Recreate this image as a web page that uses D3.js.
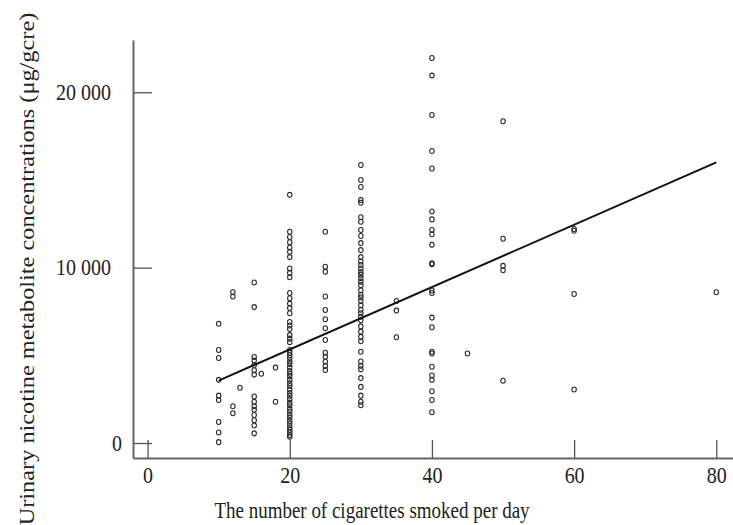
<!DOCTYPE html>
<html>
<head>
<meta charset="utf-8">
<script src="https://cdn.jsdelivr.net/npm/d3@7"></script>
<style>
  body { margin: 0; background: #fff; }
  text { font-family: "Liberation Serif", "Times New Roman", serif; fill: #222; }
</style>
</head>
<body>
<svg id="drawing_region"></svg>
<script>
// cigarettes per day (x) and urinary metabolite values, one list per x
const cigarettes = [10, 12, 13, 15, 16, 18, 20, 25, 30, 35, 40, 45, 50, 60, 80];
const conc10 = [6800, 5300, 4850, 3600, 2700, 2450, 1200, 600, 50];
const conc12 = [8600, 8350, 2100, 1700];
const conc13 = [3150];
const conc15 = [9150, 7750, 4900, 4700, 4450, 4150, 3900, 2650, 2350, 2100, 1900, 1600, 1300, 1000, 550];
const conc16 = [3950];
const conc18 = [4300, 2350];
const conc20 = [14150, 12050, 11750, 11450, 11150, 10900, 10600, 9950, 9700, 9450,
                8550, 8250, 7950, 7700, 7400, 6900, 6700, 6500, 6150, 5950, 5750,
                5300, 5150, 5000, 4850, 4650, 4500, 4300, 4100, 3950, 3800, 3600,
                3400, 3250, 3050, 2850, 2700, 2500, 2300, 2150, 1950, 1800, 1600,
                1450, 1250, 1100, 900, 750, 600, 450, 350];
const conc25 = [12050, 10050, 9770, 8350, 7585, 7055, 6540, 5875, 5150, 4920, 4635, 4390, 4165];
const conc30 = [15850, 15000, 14600, 13850, 13700, 12870, 12620, 12150, 11800, 11400, 11000,
                10600, 10350, 10150, 9950, 9750, 9600, 9400, 9200, 9000, 8700, 8450, 8300,
                8100, 7850, 7600, 7400, 7200, 7000, 6650, 6350, 6050, 5800, 5200, 4650,
                4400, 4200, 3700, 3200, 2700, 2350, 2150];
const conc35 = [8100, 7550, 6030];
const conc40 = [21950, 20950, 18700, 16650, 15650, 13200, 12750, 12150, 11900, 11300, 10250,
                10200, 8700, 8550, 7150, 6600, 5200, 5100, 4350, 3850, 3600, 2950, 2450, 1750];
const conc45 = [5100];
const conc50 = [18350, 11650, 10100, 9850, 3550];
const conc60 = [12200, 12100, 8500, 3050];
const conc80 = [8600];
const concByGroup = [conc10, conc12, conc13, conc15, conc16, conc18, conc20, conc25,
                     conc30, conc35, conc40, conc45, conc50, conc60, conc80];

// fitted line end points
const fitX = [10, 80];
const fitY = [3560, 16000];

const xTicks = [0, 20, 40, 60, 80];
const yTicks = [0, 10000, 20000];

const xTitle = "The number of cigarettes smoked per day";
const yTitle = "Urinary nicotine metabolite concentrations (\u03bcg/gcre)";

const points = [];
cigarettes.forEach((c, i) => concByGroup[i].forEach(v => points.push({ x: c, y: v })));

const config = {
    width: 733,
    height: 525,
    margin: { top: 40, right: 0, bottom: 67, left: 133 }
};
const stretch = 1.2;   // the scan is a bit taller than wide

const svg = d3.select('#drawing_region')
    .attr('width', config.width)
    .attr('height', config.height);

const inner_width = config.width - config.margin.left - config.margin.right;
const inner_height = config.height - config.margin.top - config.margin.bottom;

const chart = svg.append('g')
    .attr('transform', `translate(${config.margin.left}, ${config.margin.top})`);

const xscale = d3.scaleLinear().domain([-2.05, 82.35]).range([0, inner_width]);
const yscale = d3.scaleLinear().domain([-855, 22980]).range([inner_height, 0]);

const spaced = d3.formatLocale({ decimal: ".", thousands: " ", grouping: [3], currency: ["", ""] }).format(",");

// x axis, ticks pointing up into the plot
const xaxis_group = chart.append('g')
    .attr('transform', `translate(0, ${inner_height})`)
    .call(d3.axisBottom(xscale).tickValues(xTicks).tickSizeInner(-18).tickSizeOuter(0));

// y axis, ticks pointing right
const yaxis_group = chart.append('g')
    .call(d3.axisLeft(yscale).tickValues(yTicks).tickFormat(spaced).tickSizeInner(-19).tickSizeOuter(0));

[xaxis_group, yaxis_group].forEach(g => {
    g.select('.domain').attr('stroke', '#666').attr('stroke-width', 2);
    g.selectAll('.tick line').attr('stroke', '#555').attr('stroke-width', 1.3);
    g.selectAll('.tick text')
        .attr('fill', '#222')
        .attr('font-size', '20px')
        .attr('font-family', '"Liberation Serif", serif');
});

xaxis_group.selectAll('.tick text')
    .attr('y', 0).attr('dy', null)
    .attr('text-anchor', 'middle')
    .attr('transform', `translate(0, 25) scale(1, ${stretch})`);

// the zero label sits closer to the axis than the others
yaxis_group.selectAll('.tick text')
    .attr('x', 0).attr('dy', null)
    .attr('text-anchor', 'end')
    .attr('transform', d => `translate(${d === 0 ? -11 : -22}, 7) scale(1, ${stretch})`);

// points
chart.append('g')
    .selectAll('ellipse')
    .data(points)
    .join('ellipse')
    .attr('cx', d => xscale(d.x))
    .attr('cy', d => yscale(d.y))
    .attr('rx', 2.2)
    .attr('ry', 2.5)
    .attr('fill', 'none')
    .attr('stroke', '#2a2a2a')
    .attr('stroke-width', 1.1);

// regression line
const fit = fitX.map((v, i) => [v, fitY[i]]);
chart.append('path')
    .datum(fit)
    .attr('d', d3.line().x(d => xscale(d[0])).y(d => yscale(d[1])))
    .attr('fill', 'none')
    .attr('stroke', '#111')
    .attr('stroke-width', 2);

// titles
svg.append('text')
    .attr('text-anchor', 'middle')
    .attr('font-size', '19px')
    .attr('transform', `translate(372, 518) scale(1, ${stretch})`)
    .text(xTitle);

svg.append('text')
    .attr('text-anchor', 'middle')
    .attr('font-size', '19px')
    .attr('transform', `translate(34, 269) rotate(-90) scale(1.28, 1.05)`)
    .text(yTitle);
</script>
</body>
</html>
